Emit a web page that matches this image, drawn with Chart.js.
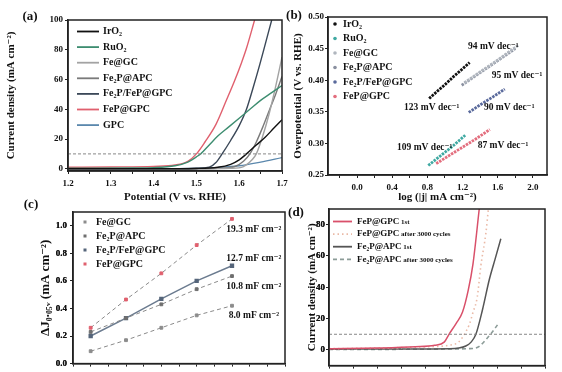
<!DOCTYPE html>
<html>
<head>
<meta charset="utf-8">
<script src="https://cdn.jsdelivr.net/npm/chart.js@4.4.1/dist/chart.umd.min.js"></script>
<style>
body { margin: 0; background: #fff; width: 562px; height: 372px; overflow: hidden; position: relative; }
canvas { position: absolute; left: 0; top: 0; }
</style>
</head>
<body>
<canvas id="pa" width="562" height="372"></canvas>
<canvas id="pb" width="562" height="372"></canvas>
<canvas id="pc" width="562" height="372"></canvas>
<canvas id="pd" width="562" height="372"></canvas>
<script>
// (a) LSV: potential (V vs RHE) -> current density (mA cm-2)
const aIrO2X = [1.20, 1.40, 1.50, 1.55, 1.58, 1.60, 1.617, 1.64, 1.66, 1.68, 1.70]
const aIrO2Y = [0, 0, 0.2, 1, 3, 6, 10, 16, 21, 27, 33]
const aRuO2X = [1.20, 1.35, 1.40, 1.45, 1.48, 1.50, 1.51, 1.53, 1.55, 1.575, 1.60, 1.625, 1.65, 1.675, 1.70]
const aRuO2Y = [0.4, 0.6, 0.8, 2, 4.5, 8, 10, 16, 22, 28, 34, 40, 46, 51, 56]
const aFeGCX = [1.20, 1.50, 1.58, 1.61, 1.63, 1.64, 1.655, 1.67, 1.685, 1.70]
const aFeGCY = [0, 0, 0.3, 1.5, 6, 10, 22, 37, 55, 75]
const aFe2PX = [1.20, 1.50, 1.55, 1.59, 1.61, 1.625, 1.64, 1.655, 1.67, 1.685, 1.70]
const aFe2PY = [0, 0, 0.3, 1.5, 5, 10, 18, 28, 39, 50, 62]
const aFe2PFePX = [1.20, 1.45, 1.50, 1.53, 1.545, 1.56, 1.58, 1.60, 1.617, 1.632, 1.648, 1.662, 1.676]
const aFe2PFePY = [0, 0, 0.3, 1, 4, 10, 19, 29, 40, 54, 70, 85, 100]
const aFePX = [1.20, 1.30, 1.40, 1.45, 1.48, 1.50, 1.52, 1.546, 1.57, 1.589, 1.605, 1.617, 1.636]
const aFePY = [1, 1.2, 1.6, 2.5, 5, 10, 18, 30, 46, 59, 71, 81, 100]
const aGPCX = [1.20, 1.45, 1.50, 1.55, 1.60, 1.65, 1.70]
const aGPCY = [0, 0.1, 0.2, 0.8, 2, 4.5, 7.5]
const refJ = 10
const aXTicks = [1.2, 1.3, 1.4, 1.5, 1.6, 1.7]
const aYTicks = [0, 20, 40, 60, 80, 100]

// (b) Tafel: log|j| -> overpotential (V)
const bIrO2X = [0.82, 0.90, 1.00, 1.10, 1.20, 1.28]
const bIrO2Y = [0.371, 0.381, 0.393, 0.406, 0.418, 0.428]
const bRuO2X = [0.81, 0.90, 1.00, 1.10, 1.23]
const bRuO2Y = [0.265, 0.275, 0.286, 0.297, 0.313]
const bFeGCX = [1.22, 1.40, 1.60, 1.84]
const bFeGCY = [0.396, 0.413, 0.432, 0.456]
const bFe2PX = [1.19, 1.40, 1.60, 1.80]
const bFe2PY = [0.392, 0.412, 0.431, 0.450]
const bFe2PFePX = [1.27, 1.40, 1.55, 1.68]
const bFe2PFePY = [0.349, 0.361, 0.374, 0.386]
const bFePX = [0.90, 1.05, 1.20, 1.35, 1.51]
const bFePY = [0.268, 0.281, 0.294, 0.307, 0.322]
const bSlopes = ['123 mV dec⁻¹', '109 mV dec⁻¹', '94 mV dec⁻¹', '95 mV dec⁻¹', '90 mV dec⁻¹', '87 mV dec⁻¹']
const bXTicks = [0.0, 0.4, 0.8, 1.2, 1.6, 2.0]
const bYTicks = [0.25, 0.30, 0.35, 0.40, 0.45, 0.50]

// (c) double-layer: scan rate -> delta J
const cRate = [10, 20, 30, 40, 50]
const cFeGC = [0.09, 0.17, 0.26, 0.35, 0.42]
const cFe2P = [0.23, 0.33, 0.43, 0.54, 0.635]
const cFe2PFeP = [0.20, 0.33, 0.47, 0.60, 0.71]
const cFeP = [0.26, 0.465, 0.655, 0.86, 1.05]
const cCdl = ['8.0 mF cm⁻²', '10.8 mF cm⁻²', '12.7 mF cm⁻²', '19.3 mF cm⁻²']
const cXTicks = [10, 20, 30, 40, 50, 60]
const cYTicks = [0.0, 0.2, 0.4, 0.6, 0.8, 1.0]

// (d) stability: potential -> current density
const dFeP1X = [1.20, 1.30, 1.38, 1.42, 1.44, 1.45, 1.465, 1.478, 1.49, 1.50, 1.513]
const dFeP1Y = [0.8, 1.2, 2, 3, 5, 10, 17, 24, 38, 55, 90]
const dFeP3kX = [1.20, 1.30, 1.40, 1.45, 1.47, 1.48, 1.492, 1.50, 1.509, 1.516, 1.527, 1.532]
const dFeP3kY = [0.8, 1.2, 2, 3, 5, 9, 16, 24, 34, 53, 75, 90]
const dFe2P1X = [1.20, 1.35, 1.45, 1.47, 1.485, 1.496, 1.506, 1.52, 1.534, 1.546, 1.558]
const dFe2P1Y = [0.5, 0.6, 0.8, 1.2, 2.5, 5, 10, 26, 45, 58, 71]
const dFe2P3kX = [1.20, 1.35, 1.45, 1.49, 1.505, 1.513, 1.527, 1.541, 1.551]
const dFe2P3kY = [0.3, 0.4, 0.6, 0.8, 1.2, 2.3, 6.6, 11.8, 16]
const dXTicks = [1.2, 1.3, 1.4, 1.5, 1.6]
const dYTicks = [0, 20, 40, 60, 80]

const serif = "'Liberation Serif', 'DejaVu Serif', serif"
Chart.defaults.font.family = serif
Chart.defaults.font.weight = 'bold'
Chart.defaults.color = '#111'
Chart.defaults.animation = false
Chart.defaults.plugins.legend.display = false
Chart.defaults.plugins.tooltip.enabled = false
Chart.defaults.elements.point.radius = 0

const ink = '#222'
const xy = (xs, ys) => xs.map((x, i) => ({ x, y: ys[i] }))
const fnt = (s) => `bold ${s}px ${serif}`

function withMinor(m, lo, hi) {
    const h = (m[1] - m[0]) / 2
    const out = []
    for (let v = m[0] - 2 * h; v <= m[m.length - 1] + 2 * h + 1e-9; v += h) {
        if (v >= lo - 1e-9 && v <= hi + 1e-9) out.push(+v.toFixed(4))
    }
    return out
}

function axis(pos, min, max, list, majors, digits, title, fixed, tickPad, titleSize) {
    return {
        type: 'linear', position: pos, min: min, max: max,
        afterBuildTicks: s => { s.ticks = list.map(v => ({ value: v })) },
        afterFit: s => { if (pos === 'left') s.width = fixed; else s.height = fixed },
        ticks: {
            autoSkip: false, source: 'ticks', maxRotation: 0, padding: tickPad, color: '#111',
            font: { size: 9, weight: 'bold' },
            callback: v => majors.some(m => Math.abs(m - v) < 1e-6) ? v.toFixed(digits) : ''
        },
        grid: { drawOnChartArea: false, tickLength: 3, tickColor: ink, tickWidth: 1 },
        border: { color: ink, width: 1.5 },
        title: { display: true, text: title, color: '#111', padding: 0, font: { size: titleSize || 11, weight: 'bold' } }
    }
}

function deco(fn) {
    return {
        id: 'deco',
        afterDraw(chart) {
            const ctx = chart.ctx
            const a = chart.chartArea
            ctx.save()
            ctx.strokeStyle = ink
            ctx.lineWidth = 1.5
            ctx.strokeRect(a.left, a.top, a.right - a.left, a.bottom - a.top)
            ctx.fillStyle = '#111'
            ctx.textBaseline = 'middle'
            fn(chart, ctx)
            ctx.restore()
        }
    }
}

// repaint the y tick labels of a scale at the place Chart.js puts them
function yTickText(c, ctx, pad) {
    const s = c.scales.y
    ctx.font = fnt(9)
    ctx.textAlign = 'right'
    ctx.fillStyle = '#111'
    s.ticks.forEach(t => {
        if (t.label) ctx.fillText(t.label, s.right - 3 - pad, s.getPixelForValue(t.value))
    })
}

function panelTag(ctx, t, x, y) {
    ctx.font = fnt(13)
    ctx.textAlign = 'center'
    ctx.fillText(t, x, y)
}

function refLine(x0, x1) {
    return { data: xy([x0, x1], [refJ, refJ]), borderColor: '#888', borderWidth: 1, borderDash: [3, 2] }
}

// ---------- (a)
const aNames = ['IrO₂', 'RuO₂', 'Fe@GC', 'Fe₂P@APC', 'Fe₂P/FeP@GPC', 'FeP@GPC', 'GPC']
const aColors = ['#111111', '#3d8d70', '#a3a3a3', '#7a7a7a', '#3b4858', '#e0606e', '#5b88ad']
const aData = [xy(aIrO2X, aIrO2Y), xy(aRuO2X, aRuO2Y), xy(aFeGCX, aFeGCY), xy(aFe2PX, aFe2PY),
    xy(aFe2PFePX, aFe2PFePY), xy(aFePX, aFePY), xy(aGPCX, aGPCY)]

new Chart(document.getElementById('pa'), {
    type: 'line',
    data: {
        datasets: [refLine(1.2, 1.7)].concat(aData.map((d, i) => ({
            label: aNames[i], data: d, borderColor: aColors[i], borderWidth: 1.4, cubicInterpolationMode: 'monotone'
        })))
    },
    options: {
        responsive: false, devicePixelRatio: 1, parsing: false,
        layout: { padding: { left: 5, top: 20, right: 280, bottom: 168 } },
        scales: {
            x: axis('bottom', 1.2, 1.7, withMinor(aXTicks, 1.2, 1.7), aXTicks, 1, 'Potential (V vs. RHE)', 33, 4),
            y: axis('left', -1.5, 100, aYTicks, aYTicks, 0, 'Current density (mA cm⁻²)', 63, 2)
        }
    },
    plugins: [deco((c, ctx) => {
        panelTag(ctx, '(a)', 30, 17)
        ctx.font = fnt(10)
        ctx.textAlign = 'left'
        aNames.forEach((n, i) => {
            const y = 31.5 + i * 15.6
            ctx.strokeStyle = aColors[i]
            ctx.lineWidth = 1.8
            ctx.beginPath(); ctx.moveTo(77, y); ctx.lineTo(99, y); ctx.stroke()
            ctx.fillText(n, 103, y)
        })
    })]
})

// ---------- (b)
const bNames = ['IrO₂', 'RuO₂', 'Fe@GC', 'Fe₂P@APC', 'Fe₂P/FeP@GPC', 'FeP@GPC']
const bColors = ['#111111', '#3fa9a2', '#b0b6be', '#8a90a0', '#5a6a9c', '#e36e7e']
const bData = [xy(bIrO2X, bIrO2Y), xy(bRuO2X, bRuO2Y), xy(bFeGCX, bFeGCY), xy(bFe2PX, bFe2PY),
    xy(bFe2PFePX, bFe2PFePY), xy(bFePX, bFePY)]
const bNotes = [[0.85, 0.357], [0.77, 0.294], [1.55, 0.453], [1.82, 0.408], [1.73, 0.357], [1.66, 0.296]]

new Chart(document.getElementById('pb'), {
    type: 'line',
    data: {
        datasets: bData.map((d, i) => ({
            label: bNames[i], data: d, borderColor: bColors[i], borderWidth: 2.8, borderDash: [2.5, 1]
        }))
    },
    options: {
        responsive: false, devicePixelRatio: 1, parsing: false,
        layout: { padding: { left: 292, top: 17, right: 15, bottom: 168 } },
        scales: {
            x: axis('bottom', -0.33, 2.16, withMinor(bXTicks, -0.33, 2.16), bXTicks, 1, 'log (|j| mA cm⁻²)', 29, 4),
            y: axis('left', 0.25, 0.50, bYTicks, bYTicks, 2, 'Overpotential (V vs. RHE)', 36, 1)
        }
    },
    plugins: [deco((c, ctx) => {
        panelTag(ctx, '(b)', 294, 16)
        ctx.font = fnt(10)
        ctx.textAlign = 'left'
        bNames.forEach((n, i) => {
            const y = 24 + i * 14.5
            ctx.fillStyle = bColors[i]
            ctx.beginPath(); ctx.arc(335, y, 1.8, 0, Math.PI * 2); ctx.fill()
            ctx.fillStyle = '#111'
            ctx.fillText(n, 343, y)
        })
        ctx.font = fnt(9.5)
        ctx.textAlign = 'center'
        bSlopes.forEach((t, i) => {
            ctx.fillText(t, c.scales.x.getPixelForValue(bNotes[i][0]), c.scales.y.getPixelForValue(bNotes[i][1]))
        })
    })]
})

// ---------- (c)
const cNames = ['Fe@GC', 'Fe₂P@APC', 'Fe₂P/FeP@GPC', 'FeP@GPC']
const cColors = ['#8c8c8c', '#6f6f6f', '#55657a', '#e0606e']
const cSets = [cFeGC, cFe2P, cFe2PFeP, cFeP]
const cNoteY = [0.35, 0.56, 0.764, 0.975]

new Chart(document.getElementById('pc'), {
    type: 'line',
    data: {
        datasets: cSets.map((s, i) => {
            const ds = {
                label: cNames[i], data: xy(cRate, s),
                borderColor: i === 2 ? '#6b7b8f' : '#8a8a8a',
                borderWidth: i === 2 ? 1.5 : 1,
                pointRadius: 2, pointStyle: 'rect',
                pointBackgroundColor: cColors[i], pointBorderColor: cColors[i]
            }
            if (i !== 2) ds.borderDash = [4, 3]
            return ds
        })
    },
    options: {
        responsive: false, devicePixelRatio: 1, parsing: false,
        layout: { padding: { left: 38, top: 212, right: 277, bottom: 0 } },
        scales: {
            x: axis('bottom', 5, 65, withMinor(cXTicks, 5, 65), cXTicks, 0, '', 8, 12),
            y: axis('left', 0, 1.1, cYTicks, cYTicks, 1, 'ΔJ₀.₀₅ᵥ (mA cm⁻²)', 35, 3, 13)
        }
    },
    plugins: [deco((c, ctx) => {
        yTickText(c, ctx, 3)
        panelTag(ctx, '(c)', 31, 205)
        ctx.font = fnt(10)
        ctx.textAlign = 'left'
        cNames.forEach((n, i) => {
            const y = 222 + i * 14
            ctx.fillStyle = cColors[i]
            ctx.fillRect(83.5, y - 1.5, 3, 3)
            ctx.fillStyle = '#111'
            ctx.fillText(n, 96, y)
        })
        ctx.font = fnt(9.5)
        ctx.textAlign = 'center'
        cCdl.forEach((t, i) => {
            ctx.fillText(t, c.scales.x.getPixelForValue(56.2), c.scales.y.getPixelForValue(cNoteY[i]))
        })
    })]
})

// ---------- (d)
const dNames = [['FeP@GPC', ' 1st'], ['FeP@GPC', ' after 3000 cycles'], ['Fe₂P@APC', ' 1st'], ['Fe₂P@APC', ' after 3000 cycles']]
const dColors = ['#d9506a', '#eab9a6', '#555555', '#8c9c98']
const dDash = [null, [1.5, 3], null, [4, 3]]
const dData = [xy(dFeP1X, dFeP1Y), xy(dFeP3kX, dFeP3kY), xy(dFe2P1X, dFe2P1Y), xy(dFe2P3kX, dFe2P3kY)]

new Chart(document.getElementById('pd'), {
    type: 'line',
    data: {
        datasets: [refLine(1.2, 1.65)].concat(dData.map((d, i) => {
            const ds = {
                label: dNames[i].join(''), data: d, borderColor: dColors[i],
                borderWidth: i % 2 ? 1.6 : 1.5, cubicInterpolationMode: 'monotone'
            }
            if (dDash[i]) ds.borderDash = dDash[i]
            return ds
        }))
    },
    options: {
        responsive: false, devicePixelRatio: 1, parsing: false,
        layout: { padding: { left: 306, top: 209, right: 17, bottom: 0 } },
        scales: {
            x: axis('bottom', 1.2, 1.65, withMinor(dXTicks, 1.2, 1.65), dXTicks, 1, '', 6, 12),
            y: axis('left', -10, 90, dYTicks, dYTicks, 0, 'Current density (mA cm⁻²)', 23, 1)
        }
    },
    plugins: [deco((c, ctx) => {
        yTickText(c, ctx, 1)
        panelTag(ctx, '(d)', 296, 213)
        ctx.textAlign = 'left'
        dNames.forEach((n, i) => {
            const y = 221.5 + i * 12.6
            ctx.strokeStyle = dColors[i]
            ctx.lineWidth = 1.8
            ctx.setLineDash(dDash[i] || [])
            ctx.beginPath(); ctx.moveTo(333, y); ctx.lineTo(352, y); ctx.stroke()
            ctx.setLineDash([])
            ctx.font = fnt(9)
            ctx.fillText(n[0], 357, y)
            const w = ctx.measureText(n[0]).width
            ctx.font = fnt(7)
            ctx.fillText(n[1], 357 + w, y + 0.5)
        })
    })]
})
</script>
</body>
</html>
